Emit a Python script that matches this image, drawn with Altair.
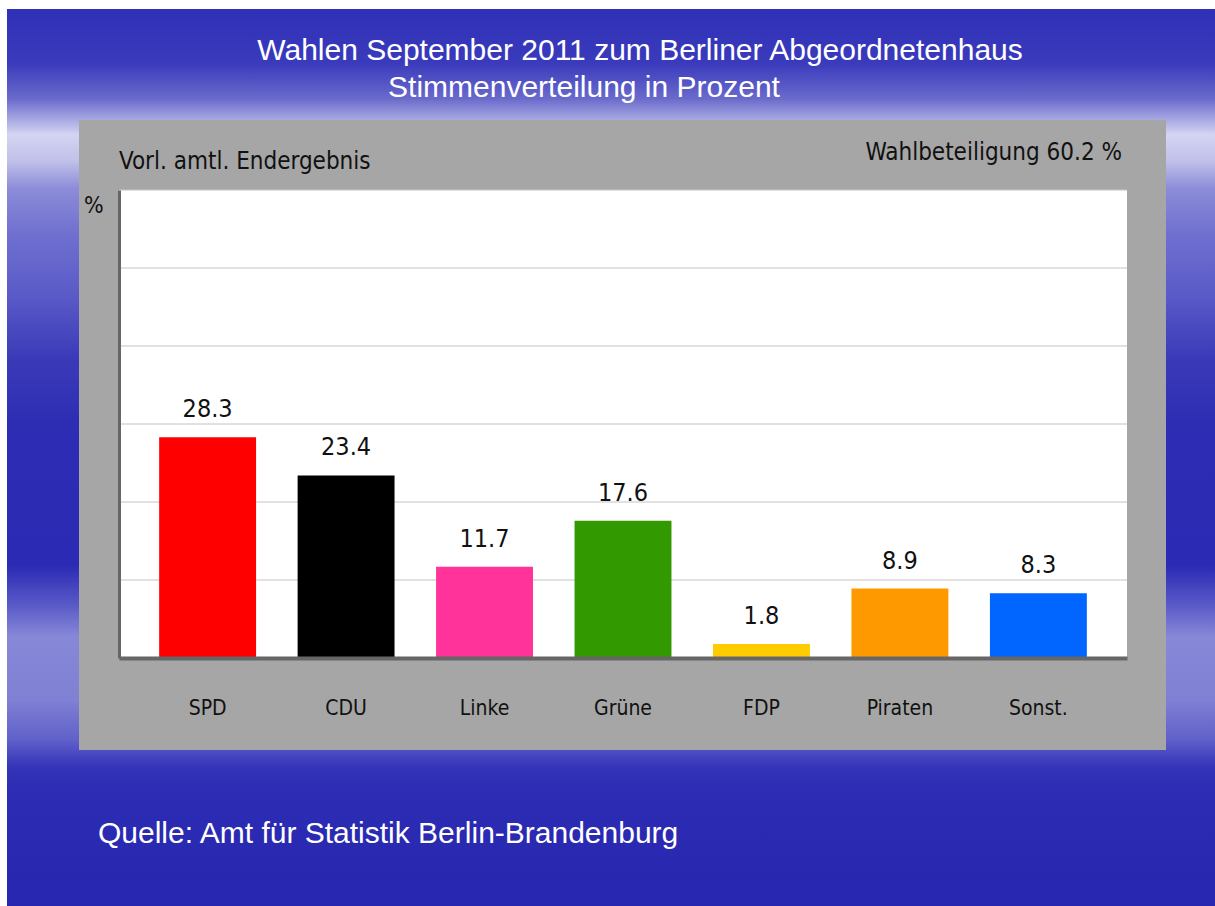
import altair as alt
import pandas as pd

parties = ["SPD", "CDU", "Linke", "Grüne", "FDP", "Piraten", "Sonst."]
shares = [28.3, 23.4, 11.7, 17.6, 1.8, 8.9, 8.3]
party_colors = ["#ff0000", "#000000", "#ff3399", "#339900", "#ffcc00", "#ff9900", "#0066ff"]
grid_values = [10, 20, 30, 40, 50, 60]

title_line1 = "Wahlen September 2011 zum Berliner Abgeordnetenhaus"
title_line2 = "Stimmenverteilung in Prozent"
subtitle_left = "Vorl. amtl. Endergebnis"
subtitle_right = "Wahlbeteiligung 60.2 %"
unit_label = "%"
source_text = "Quelle: Amt für Statistik Berlin-Brandenburg"

df = pd.DataFrame({"party": parties, "share": shares, "label": [f"{v:.1f}" for v in shares]})
grid_df = pd.DataFrame({"v": grid_values})

W, H = 1008, 468
NARROW = "Liberation Sans Narrow, DejaVu Sans Condensed, sans-serif"
ARIAL = "Liberation Sans, Arial, sans-serif"

one = alt.Data(values=[{}])

bg_grad = alt.Gradient(
    gradient="linear", x1=0, x2=0, y1=0, y2=1,
    stops=[
        alt.GradientStop(offset=0.00, color="#3030b8"),
        alt.GradientStop(offset=0.06, color="#3a3abc"),
        alt.GradientStop(offset=0.10, color="#6a6acc"),
        alt.GradientStop(offset=0.14, color="#d4d4f2"),
        alt.GradientStop(offset=0.17, color="#c0c0ea"),
        alt.GradientStop(offset=0.20, color="#8c8cd8"),
        alt.GradientStop(offset=0.25, color="#7070d0"),
        alt.GradientStop(offset=0.32, color="#5a5ac8"),
        alt.GradientStop(offset=0.39, color="#3a3ab8"),
        alt.GradientStop(offset=0.47, color="#2c2cb4"),
        alt.GradientStop(offset=0.62, color="#2a2ab4"),
        alt.GradientStop(offset=0.665, color="#5a5ac8"),
        alt.GradientStop(offset=0.70, color="#8888d8"),
        alt.GradientStop(offset=0.77, color="#8080d4"),
        alt.GradientStop(offset=0.815, color="#6060ca"),
        alt.GradientStop(offset=0.845, color="#3434b8"),
        alt.GradientStop(offset=0.87, color="#2c2cb4"),
        alt.GradientStop(offset=1.00, color="#2626b0"),
    ],
)

background = alt.Chart(one).mark_rect(fill=bg_grad).encode(
    x=alt.value(-112), x2=alt.value(1096), y=alt.value(-181), y2=alt.value(716)
)
panel = alt.Chart(one).mark_rect(color="#a6a6a6").encode(
    x=alt.value(-40), x2=alt.value(1047), y=alt.value(-70), y2=alt.value(560)
)
plot_bg = alt.Chart(one).mark_rect(color="#ffffff").encode(
    x=alt.value(0), x2=alt.value(W), y=alt.value(0), y2=alt.value(H)
)

y_scale = alt.Scale(domain=[0, 60], nice=False)
x_scale = alt.Scale(domain=parties, paddingInner=0.3, paddingOuter=0.29)
y_axis = alt.Axis(title=None, labels=False, ticks=False, grid=False, domain=True,
                  domainColor="#666666", domainWidth=3, zindex=1)

grid = alt.Chart(grid_df).mark_rule(color="#c4c4c4", strokeWidth=1.2).encode(
    y=alt.Y("v:Q", scale=y_scale, axis=y_axis),
    x=alt.value(0), x2=alt.value(W),
)

bars = alt.Chart(df).mark_bar().encode(
    x=alt.X("party:N", scale=x_scale, sort=parties,
            axis=alt.Axis(title=None, ticks=False, domain=True, domainColor="#666666",
                          domainWidth=4, grid=False, labelFont=NARROW, labelFontSize=21,
                          labelColor="#111111", labelBaseline="alphabetic", labelPadding=56,
                          labelAngle=0, zindex=1)),
    y=alt.Y("share:Q", scale=y_scale, axis=y_axis),
    color=alt.Color("party:N", scale=alt.Scale(domain=parties, range=party_colors), legend=None),
)

values = alt.Chart(df).mark_text(font=NARROW, fontSize=25, color="#111111",
                                 baseline="alphabetic", dy=-20).encode(
    x=alt.X("party:N", scale=x_scale, sort=parties),
    y=alt.Y("share:Q", scale=y_scale, axis=y_axis),
    text="label:N",
)

def label(txt, x, y, font, size, color, align="left"):
    return alt.Chart(one).mark_text(text=txt, font=font, fontSize=size, color=color,
                                    align=align, baseline="alphabetic").encode(
        x=alt.value(x), y=alt.value(y))

t1 = label(title_line1, 521, -130, ARIAL, 30, "#ffffff", "center")
t2 = label(title_line2, 465, -93, ARIAL, 30, "#ffffff", "center")
st_left = label(subtitle_left, 0, -21, NARROW, 24, "#111111")
st_right = label(subtitle_right, 1003, -30, NARROW, 24, "#111111", "right")
pct = label(unit_label, -35, 23, NARROW, 23, "#111111")
src = label(source_text, -21, 653, ARIAL, 30, "#ffffff")

chart = alt.layer(
    background, panel, plot_bg, grid, bars, values, t1, t2, st_left, st_right, pct, src
).resolve_scale(color="independent").properties(
    width=W, height=H,
    autosize=alt.AutoSizeParams(type="none"),
    padding={"left": 119, "top": 190, "right": 88, "bottom": 248},
    background="#ffffff",
).configure_view(stroke=None, fill=None)

chart.save("out.html", embed_options={"renderer": "svg", "actions": False})
